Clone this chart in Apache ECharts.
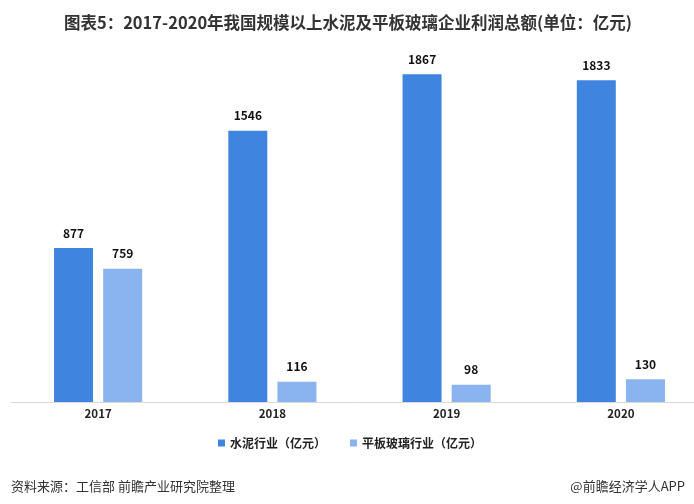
<!DOCTYPE html>
<html><head><meta charset="utf-8">
<script src="https://cdn.jsdelivr.net/npm/echarts@6/dist/echarts.min.js"></script>
<style>html,body{margin:0;padding:0;background:#fff;overflow:hidden;width:694px;height:504px}#c{width:708px;height:504px}</style>
</head><body><div id="c"></div>
<script>
const categories = ['2017', '2018', '2019', '2020'];
const cement = [877, 1546, 1867, 1833];
const glass = [759, 116, 98, 130];
const seriesNames = ['水泥行业（亿元）', '平板玻璃行业（亿元）'];

const chart = echarts.init(document.getElementById('c'));
const font = '"Noto Sans CJK SC", "Noto Sans", sans-serif';
chart.setOption({
  animation: false,
  backgroundColor: '#fff',
  textStyle: { fontFamily: font },
  title: [
    { text: '图表5：2017-2020年我国规模以上水泥及平板玻璃企业利润总额(单位：亿元)', left: 343, textAlign: 'center', top: 9,
      textStyle: { fontSize: 16.5, fontWeight: 'bold', color: '#333', fontFamily: font } },
    { text: '资料来源：工信部 前瞻产业研究院整理', left: 6, top: 475,
      textStyle: { fontSize: 13, fontWeight: 'normal', color: '#333', fontFamily: font } },
    { text: '@前瞻经济学人APP', right: 18, top: 475,
      textStyle: { fontSize: 13, fontWeight: 'normal', color: '#333', fontFamily: font } }
  ],
  legend: {
    data: seriesNames, top: 432, left: 213, itemWidth: 7, itemHeight: 7, itemGap: 24,
    icon: 'rect',
    textStyle: { fontSize: 12, fontWeight: 'bold', color: '#222', fontFamily: font }
  },
  grid: { left: 11, top: 51, right: 0, height: 351, containLabel: false },
  xAxis: {
    type: 'category', data: categories,
    axisLine: { lineStyle: { color: '#d9d9d9' } },
    axisTick: { show: false },
    axisLabel: { fontSize: 11.5, fontWeight: 'bold', color: '#222', margin: 6 }
  },
  yAxis: { type: 'value', min: 0, max: 2000, show: false, splitLine: { show: false } },
  series: [
    { name: seriesNames[0], type: 'bar', data: cement, barWidth: 39, barGap: '26%',
      itemStyle: { color: '#3f85e0' },
      label: { show: true, position: 'top', distance: 9, fontSize: 12, fontWeight: 'bold', color: '#111' } },
    { name: seriesNames[1], type: 'bar', data: glass, barWidth: 39,
      itemStyle: { color: '#8ab4ef' },
      label: { show: true, position: 'top', distance: 9, fontSize: 12, fontWeight: 'bold', color: '#111' } }
  ]
});
</script></body></html>
